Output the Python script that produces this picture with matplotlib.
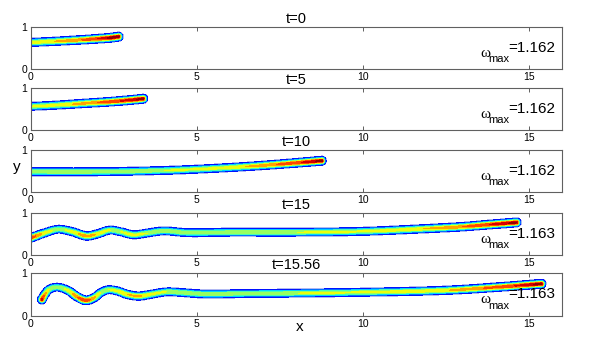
import numpy as np
import matplotlib
matplotlib.use('Agg')
import matplotlib.pyplot as plt
from matplotlib.colors import ListedColormap, BoundaryNorm

# ---- data ----
times = ['0', '5', '10', '15', '15.56']
wmax_vals = ['1.162', '1.162', '1.162', '1.163', '1.163']

# centerline control points (x, y) and relative vorticity along the filament
c0_x = [-0.3, 0.0, 0.7, 1.4, 2.0, 2.4, 2.64]
c0_y = [0.625, 0.63, 0.655, 0.685, 0.715, 0.74, 0.765]
c0_a = [0.64, 0.66, 0.7, 0.78, 0.9, 1.0, 1.0]

c1_x = [-0.3, 0.0, 0.8, 1.6, 2.4, 3.0, 3.38]
c1_y = [0.555, 0.56, 0.59, 0.63, 0.67, 0.71, 0.74]
c1_a = [0.6, 0.6, 0.65, 0.74, 0.86, 0.95, 1.0]

c2_x = [-0.3, 0.0, 2.0, 4.0, 5.0, 6.0, 7.0, 8.0, 8.76]
c2_y = [0.48, 0.48, 0.48, 0.51, 0.54, 0.58, 0.63, 0.69, 0.74]
c2_a = [0.6, 0.6, 0.6, 0.6, 0.62, 0.66, 0.75, 0.88, 1.0]

c3_x = [-0.3, 0.0, 0.4, 0.82, 1.25, 1.68, 2.0, 2.38, 2.7, 3.08, 3.5, 3.99,
        4.7, 6.0, 8.0, 10.0, 11.8, 13.0, 13.8, 14.63]
c3_y = [0.35, 0.41, 0.52, 0.61, 0.55, 0.45, 0.5, 0.59, 0.55, 0.48, 0.52, 0.57,
        0.53, 0.54, 0.54, 0.56, 0.62, 0.67, 0.72, 0.77]
c3_a = [0.9, 0.88, 0.66, 0.56, 0.64, 0.78, 0.68, 0.6, 0.6, 0.64, 0.6, 0.6,
        0.6, 0.6, 0.6, 0.62, 0.7, 0.8, 0.9, 1.0]

c4_x = [0.33, 0.42, 0.55, 0.78, 1.1, 1.4, 1.65, 1.9, 2.1, 2.33, 2.6, 2.9,
        3.25, 3.6, 4.09, 4.6, 5.2, 6.5, 8.0, 10.0, 12.6, 14.2, 15.38]
c4_y = [0.38, 0.5, 0.62, 0.67, 0.6, 0.44, 0.36, 0.42, 0.54, 0.61, 0.58, 0.5,
        0.46, 0.5, 0.56, 0.54, 0.51, 0.52, 0.53, 0.55, 0.6, 0.68, 0.75]
c4_a = [0.95, 0.74, 0.6, 0.56, 0.62, 0.8, 0.9, 0.74, 0.6, 0.6, 0.64, 0.7,
        0.72, 0.64, 0.6, 0.6, 0.6, 0.6, 0.6, 0.62, 0.7, 0.86, 1.0]

curves = [(c0_x, c0_y, c0_a), (c1_x, c1_y, c1_a), (c2_x, c2_y, c2_a),
          (c3_x, c3_y, c3_a), (c4_x, c4_y, c4_a)]

KY = 1.27      # y scale so the tube looks round on screen
SIG = 0.088    # tube width


def cr_curve(xs, ys, amps, step=0.008):
    P = np.column_stack([xs, np.array(ys) * KY]).astype(float)
    A = np.array(amps, float)
    n = len(P)
    ext = np.vstack([2 * P[0] - P[1], P, 2 * P[-1] - P[-2]])
    out_p, out_a = [], []
    for i in range(n - 1):
        p0, p1, p2, p3 = ext[i], ext[i + 1], ext[i + 2], ext[i + 3]
        t0 = 0.0
        t1 = t0 + max(np.linalg.norm(p1 - p0), 1e-6) ** 0.5
        t2 = t1 + max(np.linalg.norm(p2 - p1), 1e-6) ** 0.5
        t3 = t2 + max(np.linalg.norm(p3 - p2), 1e-6) ** 0.5
        m = max(int(np.linalg.norm(p2 - p1) / step), 2)
        t = np.linspace(t1, t2, m, endpoint=False)[:, None]
        a1 = (t1 - t) / (t1 - t0) * p0 + (t - t0) / (t1 - t0) * p1
        a2 = (t2 - t) / (t2 - t1) * p1 + (t - t1) / (t2 - t1) * p2
        a3 = (t3 - t) / (t3 - t2) * p2 + (t - t2) / (t3 - t2) * p3
        b1 = (t2 - t) / (t2 - t0) * a1 + (t - t0) / (t2 - t0) * a2
        b2 = (t3 - t) / (t3 - t1) * a2 + (t - t1) / (t3 - t1) * a3
        c = (t2 - t) / (t2 - t1) * b1 + (t - t1) / (t2 - t1) * b2
        f = ((t - t1) / (t2 - t1))[:, 0]
        out_p.append(c)
        out_a.append(A[i] + (A[i + 1] - A[i]) * f)
    out_p.append(P[-1:])
    out_a.append(A[-1:])
    return np.vstack(out_p), np.concatenate(out_a)


gx = np.linspace(0, 16, 1201)
gy = np.linspace(0, 1, 201)
GY = gy[:, None] * KY


def field(xs, ys, amps):
    pts, am = cr_curve(xs, ys, amps)
    F = np.zeros((len(gy), len(gx)))
    for (px, py), a in zip(pts, am):
        i0 = np.searchsorted(gx, px - 0.45)
        i1 = np.searchsorted(gx, px + 0.45)
        if i1 <= i0:
            continue
        sub = gx[i0:i1][None, :]
        val = a * np.exp(-((sub - px) ** 2 + (GY - py) ** 2) / SIG ** 2)
        F[:, i0:i1] = np.maximum(F[:, i0:i1], val)
    return F


levels = [0.07, 0.11, 0.2, 0.3, 0.4, 0.5, 0.6, 0.7, 0.8, 0.9, 0.97, 1.01]
jet = plt.get_cmap('jet')
fill_cols = ['#b0b8f2'] + [jet(0.65 * levels[i] + 0.35 * levels[i + 1])
                           for i in range(1, len(levels) - 1)]
fill_cmap = ListedColormap(fill_cols)
fill_norm = BoundaryNorm(levels, fill_cmap.N)

fig = plt.figure(figsize=(5.98, 3.58), dpi=100)
bottoms = [0.8073, 0.6369, 0.4637, 0.2877, 0.1187]
left, width, height = 0.0518, 0.888, 0.118
frame_col = '#606060'

for k, (cx, cy, ca) in enumerate(curves):
    ax = fig.add_axes([left, bottoms[k], width, height])
    F = field(cx, cy, ca)
    ax.contourf(gx, gy, F, levels=levels, cmap=fill_cmap, norm=fill_norm)
    ax.set_xlim(0, 16)
    ax.set_ylim(0, 1)
    ax.set_xticks([0, 5, 10, 15])
    ax.set_yticks([0, 1])
    ax.tick_params(direction='in', length=3, top=True, right=True,
                   labelsize=7.5, pad=2.5, color=frame_col, width=0.7)
    for sp in ax.spines.values():
        sp.set_color(frame_col)
        sp.set_linewidth(0.8)
    ax.set_title('t=' + times[k], fontsize=10.5, pad=3,
                 family='Liberation Sans')
    for lab in ax.get_xticklabels() + ax.get_yticklabels():
        lab.set_family('Liberation Sans')
    t3 = ax.text(0.987, 0.41, '=' + wmax_vals[k], transform=ax.transAxes,
                 ha='right', va='baseline', fontsize=11,
                 family='Liberation Sans')
    t2 = ax.annotate('max', xy=(0, 0), xycoords=t3, xytext=(1, -7.5),
                     textcoords='offset pixels', ha='right', va='baseline',
                     fontsize=8, family='Liberation Sans')
    ax.annotate('\u03c9', xy=(0, 0), xycoords=t2, xytext=(2, 7.5),
                textcoords='offset pixels', ha='right', va='baseline',
                fontsize=11, family='Liberation Serif')

fig.text(16.7 / 598, 1 - 167 / 358, 'y', ha='center', va='center',
         fontsize=11, family='Liberation Sans')
fig.text(300 / 598, 1 - 327 / 358, 'x', ha='center', va='center',
         fontsize=11, family='Liberation Sans')

fig.savefig('out.png', dpi=100)
